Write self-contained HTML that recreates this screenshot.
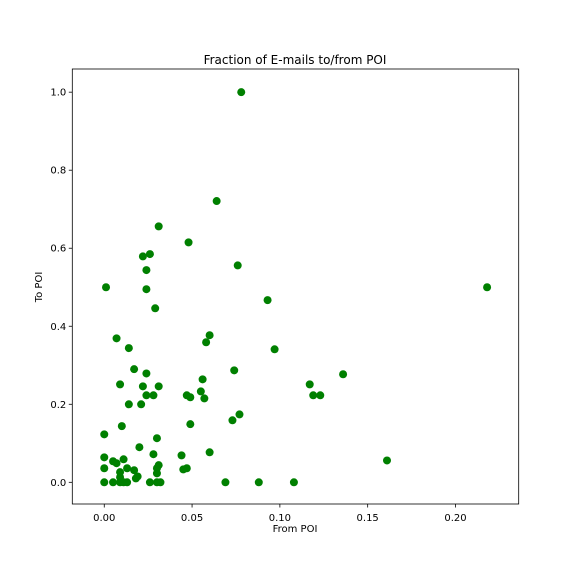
<!DOCTYPE html>
<html><head><meta charset="utf-8"><style>
body{margin:0;background:#fff}
svg{display:block;font-family:"DejaVu Sans","Liberation Sans",sans-serif}
</style></head><body>
<svg id="chart" width="576" height="576">
<rect x="0" y="0" width="576" height="576" fill="#fff"/>
<text x="295" y="64" text-anchor="middle" font-size="12">Fraction of E-mails to/from POI</text>
<text x="295" y="532" text-anchor="middle" font-size="10">From POI</text>
<text x="0" y="0" transform="translate(42,287) rotate(-90)" text-anchor="middle" font-size="10">To POI</text>
<g id="marks"></g>
<g id="axes"></g>
</svg>
<script>
const fromPoi = [0.078,0.064,0.031,0.048,0.026,0.022,0.024,0.076,0.001,0.024,0.218,0.029,0.093,0.007,0.060,0.058,0.014,0.097,
0.017,0.024,0.009,0.022,0.031,0.056,0.074,0.055,0.057,0.047,0.049,0.024,0.028,0.014,0.021,0.077,0.073,0.049,0.010,0.000,0.030,0.020,0.060,0.028,0.044,0.000,0.011,0.005,0.007,0.031,0.030,0.013,0.017,0.000,0.045,0.047,0.009,0.030,0.019,0.018,0.009,
0.000,0.005,0.009,0.011,0.013,0.026,0.030,0.032,0.069,0.088,0.108,
0.161,0.119,0.123,0.117,0.136];
const toPoi = [1.0,0.721,0.656,0.615,0.585,0.579,0.544,0.556,0.500,0.495,0.500,0.446,0.467,0.369,0.377,0.359,0.344,0.341,
0.290,0.279,0.251,0.246,0.246,0.264,0.287,0.233,0.215,0.223,0.218,0.223,0.223,0.200,0.200,0.174,0.159,0.149,0.144,0.123,0.113,0.090,0.077,0.072,0.069,0.064,0.059,0.054,0.049,0.044,0.036,0.036,0.031,0.036,0.033,0.036,0.026,0.023,0.015,0.010,0.013,
0,0,0,0,0,0,0,0,0,0,0,
0.056,0.223,0.223,0.251,0.277];
const xTicks = [0.00,0.05,0.10,0.15,0.20];
const xTickLabels = ["0.00","0.05","0.10","0.15","0.20"];
const yTicks = [0.0,0.2,0.4,0.6,0.8,1.0];
const yTickLabels = ["0.0","0.2","0.4","0.6","0.8","1.0"];

const L=72.3,R=518.7,T=69,B=504;
const xMin=-0.0182,xMax=0.2360,yMin=-0.0556,yMax=1.0594;
const sx=v=>L+(v-xMin)/(xMax-xMin)*(R-L);
const sy=v=>B-(v-yMin)/(yMax-yMin)*(B-T);
const NS="http://www.w3.org/2000/svg";
const marks=document.getElementById('marks'),axes=document.getElementById('axes');
fromPoi.forEach((x,i)=>{
  const c=document.createElementNS(NS,'circle');
  c.setAttribute('cx',sx(x));c.setAttribute('cy',sy(toPoi[i]));c.setAttribute('r',4);c.setAttribute('fill','#008000');
  
  
  marks.appendChild(c);
});
const fr=document.createElementNS(NS,'rect');
fr.setAttribute('x',L);fr.setAttribute('y',T);fr.setAttribute('width',R-L);fr.setAttribute('height',B-T);
fr.setAttribute('fill','none');fr.setAttribute('stroke','#000');fr.setAttribute('stroke-width','0.8');


axes.appendChild(fr);
xTicks.forEach((v,i)=>{
  const x=sx(v);
  const l=document.createElementNS(NS,'line');
  l.setAttribute('x1',x);l.setAttribute('x2',x);l.setAttribute('y1',B);l.setAttribute('y2',B+3.5);l.setAttribute('stroke','#000');l.setAttribute('stroke-width','0.8');
  
  
  axes.appendChild(l);
  const t=document.createElementNS(NS,'text');
  t.setAttribute('x',x);t.setAttribute('y',B+17);t.setAttribute('text-anchor','middle');t.setAttribute('font-size','10');
  t.textContent=xTickLabels[i];
  
  
  axes.appendChild(t);
});
yTicks.forEach((v,i)=>{
  const y=sy(v);
  const l=document.createElementNS(NS,'line');
  l.setAttribute('x1',L-3.5);l.setAttribute('x2',L);l.setAttribute('y1',y);l.setAttribute('y2',y);l.setAttribute('stroke','#000');l.setAttribute('stroke-width','0.8');
  
  
  axes.appendChild(l);
  const t=document.createElementNS(NS,'text');
  t.setAttribute('x',L-6);t.setAttribute('y',y+3.5);t.setAttribute('text-anchor','end');t.setAttribute('font-size','10');
  t.textContent=yTickLabels[i];
  
  
  axes.appendChild(t);
});
</script>
</body></html>
